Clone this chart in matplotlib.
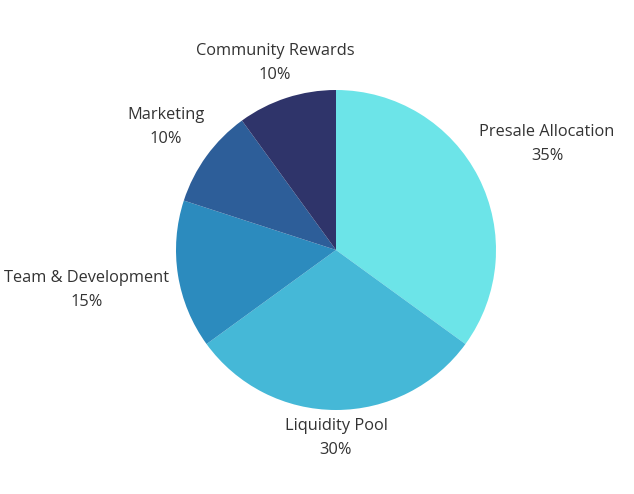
import matplotlib.pyplot as plt

# Data
labels = ['Presale Allocation', 'Liquidity Pool', 'Team & Development',
          'Marketing', 'Community Rewards']
shares = [35, 30, 15, 10, 10]
colors = ['#6ce4e8', '#45b8d7', '#2c8bbe', '#2d5e99', '#2f346a']

# label anchor positions (pixels, y measured from top)
label_pos = [(547, 144), (336, 438), (87, 290), (166, 127), (275, 63)]

W, H = 634, 494
fig = plt.figure(figsize=(W / 100, H / 100), dpi=100)
ax = fig.add_axes([0, 0, 1, 1])

ax.pie(shares, colors=colors, startangle=90, counterclock=False,
       radius=160, center=(336, H - 250),
       wedgeprops=dict(linewidth=0))

for lab, val, (x, y) in zip(labels, shares, label_pos):
    ax.text(x, H - y, f'{lab}\n{val}%', ha='center', va='center',
            fontsize=11.8, color='#333333', family='Open Sans',
            linespacing=1.6)

ax.set_xlim(0, W)
ax.set_ylim(0, H)
ax.set_aspect('equal')
ax.axis('off')

fig.savefig('out.png', dpi=100, facecolor='white')
